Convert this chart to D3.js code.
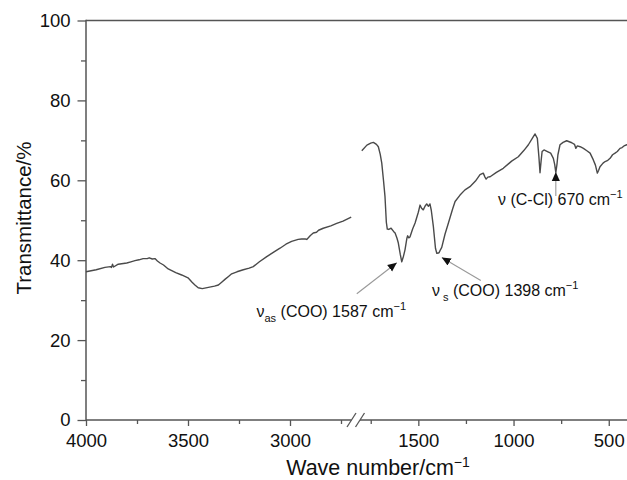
<!DOCTYPE html>
<html>
<head>
<meta charset="utf-8">
<script src="https://cdn.jsdelivr.net/npm/d3@7"></script>
<style>
  html, body { margin: 0; padding: 0; background: #fff; }
  svg { display: block; }
  text { font-family: "Liberation Sans", Arial, Helvetica, sans-serif; fill: #111; }
</style>
</head>
<body>
<svg id="chart" width="627" height="480"></svg>
<script>
// ---- data ----
const leftWave = [4000,3950,3907,3880,3875,3870,3865,3842,3800,3780,3760,3740,3720,3700,3690,3675,3662,3650,3637,3620,3597,3560,3531,3500,3480,3466,3450,3430,3400,3370,3351,3335,3319,3300,3286,3260,3229,3200,3180,3150,3114,3080,3049,3020,2992,2960,2943,2925,2918,2900,2886,2870,2860,2837,2800,2771,2740,2700];
const leftTrans = [37.1,37.6,38.2,38.4,38.2,39.0,38.3,39.0,39.3,39.6,39.9,40.1,40.4,40.4,40.6,40.3,40.4,39.8,39.3,38.8,37.8,36.9,36.3,35.6,34.5,33.8,33.1,32.9,33.2,33.5,33.8,34.5,35.2,36.0,36.6,37.1,37.6,38.0,38.4,39.6,40.9,42.0,43.0,44.0,44.7,45.2,45.3,45.3,45.2,46.2,46.8,47.0,47.5,48.0,48.6,49.2,49.8,50.8];

const rightWave = [1797,1770,1750,1736,1720,1710,1700,1692,1683,1675,1668,1663,1655,1643,1630,1622,1612,1605,1595,1587,1578,1570,1560,1556,1550,1544,1530,1517,1500,1491,1483,1474,1465,1456,1447,1439,1432,1421,1410,1403,1395,1391,1384,1377,1360,1342,1320,1307,1281,1255,1229,1200,1176,1159,1150,1144,1135,1123,1090,1054,1010,975,945,922,900,887,875,867,861,855,850,840,822,805,791,784,778,772,767,756,740,721,694,680,673,665,650,633,615,598,581,570,560,553,546,530,519,505,493,480,467,455,441,430,420,405,400];
const rightTrans = [67.4,68.8,69.3,69.5,69.0,68.4,66.5,64.3,60.0,55.9,49.5,47.8,47.7,48.0,47.2,46.8,45.5,44.3,41.5,39.6,41.0,42.6,45.5,46.1,45.6,45.8,47.8,49.3,52.0,53.8,53.0,52.6,53.5,54.1,53.5,54.1,52.5,48.4,43.0,41.7,41.8,41.9,42.6,43.2,46.5,49.3,52.8,54.7,56.3,57.6,58.4,59.8,61.4,61.8,60.8,60.3,60.8,60.9,62.0,63.0,64.8,65.9,67.5,68.9,70.6,71.6,70.5,66.0,61.9,65.0,67.2,67.6,67.2,66.8,65.5,64.0,61.9,64.0,66.4,68.9,69.5,69.9,69.4,69.0,68.0,68.6,68.4,68.0,67.4,66.8,65.1,63.8,61.8,62.5,63.4,64.3,64.7,65.0,65.5,66.4,66.8,67.2,68.0,68.2,68.6,68.9,69.0];

const leftMajorTicks = [4000, 3500, 3000];
const leftMinorTicks = [3750, 3250, 2750];
const rightMajorTicks = [1500, 1000, 500];
const rightMinorTicks = [1750, 1250, 750];
const yMajorTicks = [0, 20, 40, 60, 80, 100];
const yMinorTicks = [10, 30, 50, 70, 90];

const annWave = [1587, 1398, 670];
const annPeakWave = [1587, 1403, 778];

// ---- layout ----
const svg = d3.select("#chart");
const y = d3.scaleLinear().domain([0, 100]).range([420, 20.5]);
const xL = d3.scaleLinear().domain([4000, 2675]).range([86, 356.3]);
const xR = d3.scaleLinear().domain([1800, 400]).range([361.2, 627.8]);

const axisColor = "#555";
const fs = 18.5;

// top frame line
svg.append("line").attr("x1", 86).attr("x2", 627).attr("y1", y(100)).attr("y2", y(100))
  .attr("stroke", axisColor).attr("stroke-width", 1.5);

function styleAxis(g) {
  g.selectAll(".domain").remove();
  g.selectAll(".tick line").attr("stroke", axisColor).attr("stroke-width", 1.3);
  g.selectAll("text").style("font-size", fs + "px").attr("fill", "#111");
}
const gy = svg.append("g").attr("transform", "translate(86,0)")
  .call(d3.axisLeft(y).tickValues(yMajorTicks).tickSize(8.5).tickPadding(7));
styleAxis(gy);
const gyMinor = svg.append("g").attr("transform", "translate(86,0)")
  .call(d3.axisLeft(y).tickValues(yMinorTicks).tickSize(5).tickFormat(""));
styleAxis(gyMinor);
svg.append("line").attr("x1", 86).attr("x2", 86).attr("y1", y(100) - 0.7).attr("y2", y(0) + 0.7)
  .attr("stroke", axisColor).attr("stroke-width", 1.5);

// x axes
const x0 = y(0);
[[xL, leftMajorTicks, leftMinorTicks], [xR, rightMajorTicks, rightMinorTicks]].forEach(([sc, maj, min]) => {
  const g1 = svg.append("g").attr("transform", `translate(0,${x0})`)
    .call(d3.axisBottom(sc).tickValues(maj).tickSize(6).tickPadding(8).tickFormat(d3.format("d")));
  styleAxis(g1);
  const g2 = svg.append("g").attr("transform", `translate(0,${x0})`)
    .call(d3.axisBottom(sc).tickValues(min).tickSize(4).tickFormat(""));
  styleAxis(g2);
});
svg.append("line").attr("x1", 86).attr("x2", 351.5).attr("y1", x0).attr("y2", x0)
  .attr("stroke", axisColor).attr("stroke-width", 1.5);
svg.append("line").attr("x1", 360).attr("x2", 627).attr("y1", x0).attr("y2", x0)
  .attr("stroke", axisColor).attr("stroke-width", 1.5);
[351.5, 360].forEach(cx => {
  svg.append("line").attr("x1", cx - 4.5).attr("y1", x0 + 7).attr("x2", cx + 4.5).attr("y2", x0 - 7)
    .attr("stroke", axisColor).attr("stroke-width", 1.3);
});

// spectrum lines
const lineL = d3.line().x((d, i) => xL(leftWave[i])).y(d => y(d));
const lineR = d3.line().x((d, i) => xR(rightWave[i])).y(d => y(d));
svg.append("path").datum(leftTrans).attr("d", lineL)
  .attr("fill", "none").attr("stroke", "#4a4a4a").attr("stroke-width", 1.4).attr("stroke-linejoin", "round");
svg.append("path").datum(rightTrans).attr("d", lineR)
  .attr("fill", "none").attr("stroke", "#4a4a4a").attr("stroke-width", 1.4).attr("stroke-linejoin", "round");

// axis titles
svg.append("text").attr("transform", "translate(31,218) rotate(-90)")
  .attr("text-anchor", "middle").style("font-size", "20.5px").text("Transmittance/%");
const xt = svg.append("text").attr("x", 378).attr("y", 475).attr("text-anchor", "middle").style("font-size", "21.5px");
xt.append("tspan").text("Wave number/cm");
xt.append("tspan").attr("dy", -8).style("font-size", "14px").text("\u22121");

// annotations
const defs = svg.append("defs");
defs.append("marker").attr("id", "ah").attr("viewBox", "0 0 10 10").attr("refX", 10).attr("refY", 5)
  .attr("markerWidth", 9).attr("markerHeight", 9).attr("markerUnits", "userSpaceOnUse").attr("orient", "auto")
  .append("path").attr("d", "M0,0.5 L10,5 L0,9.5 Z").attr("fill", "#111");

function arrow(x1, y1, x2, y2) {
  svg.append("line").attr("x1", x1).attr("y1", y1).attr("x2", x2).attr("y2", y2)
    .attr("stroke", "#999").attr("stroke-width", 1.1).attr("marker-end", "url(#ah)");
}
const p1x = xR(annPeakWave[0]), p1y = y(39.6);
arrow(p1x - 45, p1y + 32, p1x - 5, p1y + 1);
const t1 = svg.append("text").attr("x", 256.5).attr("y", 317).style("font-size", "16px");
t1.append("tspan").text("\u03bd");
t1.append("tspan").attr("dy", 5).style("font-size", "11px").text("as");
t1.append("tspan").attr("dy", -5).text(` (COO) ${annWave[0]} cm`);
t1.append("tspan").attr("dy", -7).style("font-size", "11px").text("\u22121");
const p2x = xR(annPeakWave[1]), p2y = y(41.7);
arrow(p2x + 44, p2y + 27, p2x + 5, p2y + 4);
const t2 = svg.append("text").attr("x", 432).attr("y", 296).style("font-size", "16px");
t2.append("tspan").text("\u03bd");
t2.append("tspan").attr("dx", 3).attr("dy", 5).style("font-size", "11px").text("s");
t2.append("tspan").attr("dy", -5).text(` (COO) ${annWave[1]} cm`);
t2.append("tspan").attr("dy", -7).style("font-size", "11px").text("\u22121");
const p3x = xR(annPeakWave[2]);
arrow(p3x, 196, p3x, 172);
const t3 = svg.append("text").attr("x", 498).attr("y", 205).style("font-size", "16px");
t3.append("tspan").text(`\u03bd (C-Cl) ${annWave[2]} cm`);
t3.append("tspan").attr("dy", -7).style("font-size", "11px").text("\u22121");
</script>
</body>
</html>
